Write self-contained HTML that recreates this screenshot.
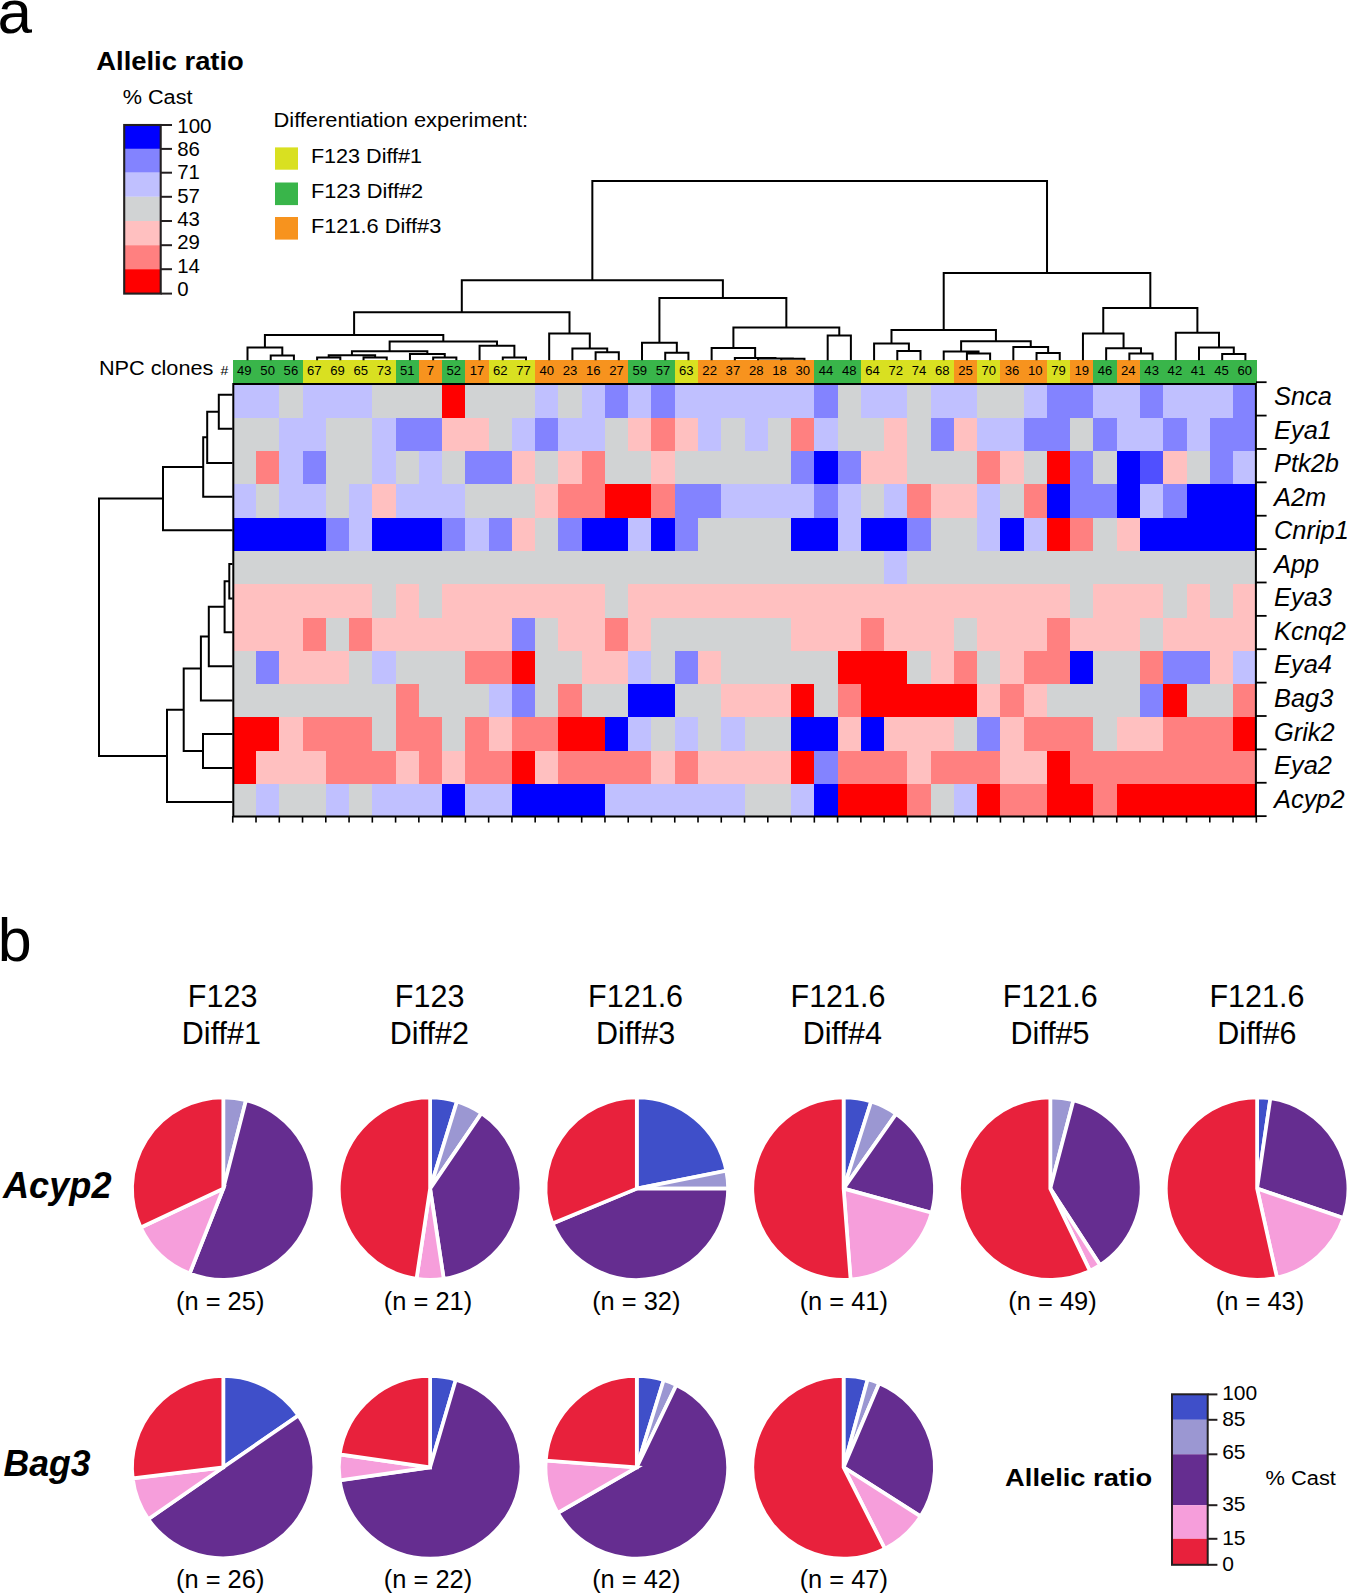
<!DOCTYPE html>
<html><head><meta charset="utf-8"><title>Figure</title>
<style>html,body{margin:0;padding:0;background:#fff;}body{width:1347px;height:1595px;position:relative;overflow:hidden;font-family:"Liberation Sans", sans-serif;}</style>
</head><body>
<svg width="1347" height="1595" viewBox="0 0 1347 1595" style="position:absolute;left:0;top:0" font-family='"Liberation Sans", sans-serif'>
<rect width="1347" height="1595" fill="#fff"/>
<g shape-rendering="crispEdges">
<rect x="232.75" y="383.70" width="46.53" height="34.56" fill="#C0C0FF"/>
<rect x="279.28" y="383.70" width="23.26" height="34.56" fill="#D1D3D4"/>
<rect x="302.54" y="383.70" width="69.79" height="34.56" fill="#C0C0FF"/>
<rect x="372.33" y="383.70" width="69.79" height="34.56" fill="#D1D3D4"/>
<rect x="442.12" y="383.70" width="23.26" height="34.56" fill="#FF0000"/>
<rect x="465.38" y="383.70" width="69.79" height="34.56" fill="#D1D3D4"/>
<rect x="535.17" y="383.70" width="23.26" height="34.56" fill="#C0C0FF"/>
<rect x="558.43" y="383.70" width="23.26" height="34.56" fill="#D1D3D4"/>
<rect x="581.70" y="383.70" width="23.26" height="34.56" fill="#C0C0FF"/>
<rect x="604.96" y="383.70" width="23.26" height="34.56" fill="#8383FF"/>
<rect x="628.22" y="383.70" width="23.26" height="34.56" fill="#C0C0FF"/>
<rect x="651.48" y="383.70" width="23.26" height="34.56" fill="#8383FF"/>
<rect x="674.75" y="383.70" width="139.58" height="34.56" fill="#C0C0FF"/>
<rect x="814.33" y="383.70" width="23.26" height="34.56" fill="#8383FF"/>
<rect x="837.59" y="383.70" width="23.26" height="34.56" fill="#D1D3D4"/>
<rect x="860.85" y="383.70" width="46.53" height="34.56" fill="#C0C0FF"/>
<rect x="907.38" y="383.70" width="23.26" height="34.56" fill="#D1D3D4"/>
<rect x="930.64" y="383.70" width="46.53" height="34.56" fill="#C0C0FF"/>
<rect x="977.17" y="383.70" width="46.53" height="34.56" fill="#D1D3D4"/>
<rect x="1023.69" y="383.70" width="23.26" height="34.56" fill="#C0C0FF"/>
<rect x="1046.95" y="383.70" width="46.53" height="34.56" fill="#8383FF"/>
<rect x="1093.48" y="383.70" width="46.53" height="34.56" fill="#C0C0FF"/>
<rect x="1140.01" y="383.70" width="23.26" height="34.56" fill="#8383FF"/>
<rect x="1163.27" y="383.70" width="69.79" height="34.56" fill="#C0C0FF"/>
<rect x="1233.06" y="383.70" width="23.26" height="34.56" fill="#8383FF"/>
<rect x="232.75" y="417.96" width="46.53" height="33.56" fill="#D1D3D4"/>
<rect x="279.28" y="417.96" width="46.53" height="33.56" fill="#C0C0FF"/>
<rect x="325.80" y="417.96" width="46.53" height="33.56" fill="#D1D3D4"/>
<rect x="372.33" y="417.96" width="23.26" height="33.56" fill="#C0C0FF"/>
<rect x="395.59" y="417.96" width="46.53" height="33.56" fill="#8383FF"/>
<rect x="442.12" y="417.96" width="46.53" height="33.56" fill="#FFC0C0"/>
<rect x="488.64" y="417.96" width="23.26" height="33.56" fill="#D1D3D4"/>
<rect x="511.91" y="417.96" width="23.26" height="33.56" fill="#C0C0FF"/>
<rect x="535.17" y="417.96" width="23.26" height="33.56" fill="#8383FF"/>
<rect x="558.43" y="417.96" width="46.53" height="33.56" fill="#C0C0FF"/>
<rect x="604.96" y="417.96" width="23.26" height="33.56" fill="#D1D3D4"/>
<rect x="628.22" y="417.96" width="23.26" height="33.56" fill="#FFC0C0"/>
<rect x="651.48" y="417.96" width="23.26" height="33.56" fill="#FF8080"/>
<rect x="674.75" y="417.96" width="23.26" height="33.56" fill="#FFC0C0"/>
<rect x="698.01" y="417.96" width="23.26" height="33.56" fill="#C0C0FF"/>
<rect x="721.27" y="417.96" width="23.26" height="33.56" fill="#D1D3D4"/>
<rect x="744.54" y="417.96" width="23.26" height="33.56" fill="#C0C0FF"/>
<rect x="767.80" y="417.96" width="23.26" height="33.56" fill="#D1D3D4"/>
<rect x="791.06" y="417.96" width="23.26" height="33.56" fill="#FF8080"/>
<rect x="814.33" y="417.96" width="23.26" height="33.56" fill="#C0C0FF"/>
<rect x="837.59" y="417.96" width="46.53" height="33.56" fill="#D1D3D4"/>
<rect x="884.11" y="417.96" width="23.26" height="33.56" fill="#FFC0C0"/>
<rect x="907.38" y="417.96" width="23.26" height="33.56" fill="#D1D3D4"/>
<rect x="930.64" y="417.96" width="23.26" height="33.56" fill="#8383FF"/>
<rect x="953.90" y="417.96" width="23.26" height="33.56" fill="#FFC0C0"/>
<rect x="977.17" y="417.96" width="46.53" height="33.56" fill="#C0C0FF"/>
<rect x="1023.69" y="417.96" width="46.53" height="33.56" fill="#8383FF"/>
<rect x="1070.22" y="417.96" width="23.26" height="33.56" fill="#D1D3D4"/>
<rect x="1093.48" y="417.96" width="23.26" height="33.56" fill="#8383FF"/>
<rect x="1116.74" y="417.96" width="46.53" height="33.56" fill="#C0C0FF"/>
<rect x="1163.27" y="417.96" width="23.26" height="33.56" fill="#8383FF"/>
<rect x="1186.53" y="417.96" width="23.26" height="33.56" fill="#C0C0FF"/>
<rect x="1209.80" y="417.96" width="46.53" height="33.56" fill="#8383FF"/>
<rect x="232.75" y="451.22" width="23.26" height="33.56" fill="#D1D3D4"/>
<rect x="256.01" y="451.22" width="23.26" height="33.56" fill="#FF8080"/>
<rect x="279.28" y="451.22" width="23.26" height="33.56" fill="#C0C0FF"/>
<rect x="302.54" y="451.22" width="23.26" height="33.56" fill="#8383FF"/>
<rect x="325.80" y="451.22" width="46.53" height="33.56" fill="#D1D3D4"/>
<rect x="372.33" y="451.22" width="23.26" height="33.56" fill="#C0C0FF"/>
<rect x="395.59" y="451.22" width="23.26" height="33.56" fill="#D1D3D4"/>
<rect x="418.85" y="451.22" width="23.26" height="33.56" fill="#C0C0FF"/>
<rect x="442.12" y="451.22" width="23.26" height="33.56" fill="#D1D3D4"/>
<rect x="465.38" y="451.22" width="46.53" height="33.56" fill="#8383FF"/>
<rect x="511.91" y="451.22" width="23.26" height="33.56" fill="#FFC0C0"/>
<rect x="535.17" y="451.22" width="23.26" height="33.56" fill="#D1D3D4"/>
<rect x="558.43" y="451.22" width="23.26" height="33.56" fill="#FFC0C0"/>
<rect x="581.70" y="451.22" width="23.26" height="33.56" fill="#FF8080"/>
<rect x="604.96" y="451.22" width="46.53" height="33.56" fill="#D1D3D4"/>
<rect x="651.48" y="451.22" width="23.26" height="33.56" fill="#FFC0C0"/>
<rect x="674.75" y="451.22" width="116.31" height="33.56" fill="#D1D3D4"/>
<rect x="791.06" y="451.22" width="23.26" height="33.56" fill="#8383FF"/>
<rect x="814.33" y="451.22" width="23.26" height="33.56" fill="#0000FF"/>
<rect x="837.59" y="451.22" width="23.26" height="33.56" fill="#8383FF"/>
<rect x="860.85" y="451.22" width="46.53" height="33.56" fill="#FFC0C0"/>
<rect x="907.38" y="451.22" width="69.79" height="33.56" fill="#D1D3D4"/>
<rect x="977.17" y="451.22" width="23.26" height="33.56" fill="#FF8080"/>
<rect x="1000.43" y="451.22" width="23.26" height="33.56" fill="#FFC0C0"/>
<rect x="1023.69" y="451.22" width="23.26" height="33.56" fill="#D1D3D4"/>
<rect x="1046.95" y="451.22" width="23.26" height="33.56" fill="#FF0000"/>
<rect x="1070.22" y="451.22" width="23.26" height="33.56" fill="#8383FF"/>
<rect x="1093.48" y="451.22" width="23.26" height="33.56" fill="#D1D3D4"/>
<rect x="1116.74" y="451.22" width="23.26" height="33.56" fill="#0000FF"/>
<rect x="1140.01" y="451.22" width="23.26" height="33.56" fill="#5050FF"/>
<rect x="1163.27" y="451.22" width="23.26" height="33.56" fill="#FFC0C0"/>
<rect x="1186.53" y="451.22" width="23.26" height="33.56" fill="#D1D3D4"/>
<rect x="1209.80" y="451.22" width="23.26" height="33.56" fill="#8383FF"/>
<rect x="1233.06" y="451.22" width="23.26" height="33.56" fill="#C0C0FF"/>
<rect x="232.75" y="484.48" width="23.26" height="33.56" fill="#C0C0FF"/>
<rect x="256.01" y="484.48" width="23.26" height="33.56" fill="#D1D3D4"/>
<rect x="279.28" y="484.48" width="46.53" height="33.56" fill="#C0C0FF"/>
<rect x="325.80" y="484.48" width="23.26" height="33.56" fill="#D1D3D4"/>
<rect x="349.06" y="484.48" width="23.26" height="33.56" fill="#C0C0FF"/>
<rect x="372.33" y="484.48" width="23.26" height="33.56" fill="#FFC0C0"/>
<rect x="395.59" y="484.48" width="69.79" height="33.56" fill="#C0C0FF"/>
<rect x="465.38" y="484.48" width="69.79" height="33.56" fill="#D1D3D4"/>
<rect x="535.17" y="484.48" width="23.26" height="33.56" fill="#FFC0C0"/>
<rect x="558.43" y="484.48" width="46.53" height="33.56" fill="#FF8080"/>
<rect x="604.96" y="484.48" width="46.53" height="33.56" fill="#FF0000"/>
<rect x="651.48" y="484.48" width="23.26" height="33.56" fill="#FF8080"/>
<rect x="674.75" y="484.48" width="46.53" height="33.56" fill="#8383FF"/>
<rect x="721.27" y="484.48" width="93.05" height="33.56" fill="#C0C0FF"/>
<rect x="814.33" y="484.48" width="23.26" height="33.56" fill="#8383FF"/>
<rect x="837.59" y="484.48" width="23.26" height="33.56" fill="#C0C0FF"/>
<rect x="860.85" y="484.48" width="23.26" height="33.56" fill="#D1D3D4"/>
<rect x="884.11" y="484.48" width="23.26" height="33.56" fill="#C0C0FF"/>
<rect x="907.38" y="484.48" width="23.26" height="33.56" fill="#FF8080"/>
<rect x="930.64" y="484.48" width="46.53" height="33.56" fill="#FFC0C0"/>
<rect x="977.17" y="484.48" width="23.26" height="33.56" fill="#C0C0FF"/>
<rect x="1000.43" y="484.48" width="23.26" height="33.56" fill="#D1D3D4"/>
<rect x="1023.69" y="484.48" width="23.26" height="33.56" fill="#FF8080"/>
<rect x="1046.95" y="484.48" width="23.26" height="33.56" fill="#0000FF"/>
<rect x="1070.22" y="484.48" width="46.53" height="33.56" fill="#8383FF"/>
<rect x="1116.74" y="484.48" width="23.26" height="33.56" fill="#0000FF"/>
<rect x="1140.01" y="484.48" width="23.26" height="33.56" fill="#C0C0FF"/>
<rect x="1163.27" y="484.48" width="23.26" height="33.56" fill="#8383FF"/>
<rect x="1186.53" y="484.48" width="69.79" height="33.56" fill="#0000FF"/>
<rect x="232.75" y="517.74" width="93.05" height="33.56" fill="#0000FF"/>
<rect x="325.80" y="517.74" width="23.26" height="33.56" fill="#8383FF"/>
<rect x="349.06" y="517.74" width="23.26" height="33.56" fill="#C0C0FF"/>
<rect x="372.33" y="517.74" width="69.79" height="33.56" fill="#0000FF"/>
<rect x="442.12" y="517.74" width="23.26" height="33.56" fill="#8383FF"/>
<rect x="465.38" y="517.74" width="23.26" height="33.56" fill="#C0C0FF"/>
<rect x="488.64" y="517.74" width="23.26" height="33.56" fill="#8383FF"/>
<rect x="511.91" y="517.74" width="23.26" height="33.56" fill="#FFC0C0"/>
<rect x="535.17" y="517.74" width="23.26" height="33.56" fill="#D1D3D4"/>
<rect x="558.43" y="517.74" width="23.26" height="33.56" fill="#8383FF"/>
<rect x="581.70" y="517.74" width="46.53" height="33.56" fill="#0000FF"/>
<rect x="628.22" y="517.74" width="23.26" height="33.56" fill="#C0C0FF"/>
<rect x="651.48" y="517.74" width="23.26" height="33.56" fill="#0000FF"/>
<rect x="674.75" y="517.74" width="23.26" height="33.56" fill="#8383FF"/>
<rect x="698.01" y="517.74" width="93.05" height="33.56" fill="#D1D3D4"/>
<rect x="791.06" y="517.74" width="46.53" height="33.56" fill="#0000FF"/>
<rect x="837.59" y="517.74" width="23.26" height="33.56" fill="#C0C0FF"/>
<rect x="860.85" y="517.74" width="46.53" height="33.56" fill="#0000FF"/>
<rect x="907.38" y="517.74" width="23.26" height="33.56" fill="#8383FF"/>
<rect x="930.64" y="517.74" width="46.53" height="33.56" fill="#D1D3D4"/>
<rect x="977.17" y="517.74" width="23.26" height="33.56" fill="#C0C0FF"/>
<rect x="1000.43" y="517.74" width="23.26" height="33.56" fill="#0000FF"/>
<rect x="1023.69" y="517.74" width="23.26" height="33.56" fill="#C0C0FF"/>
<rect x="1046.95" y="517.74" width="23.26" height="33.56" fill="#FF0000"/>
<rect x="1070.22" y="517.74" width="23.26" height="33.56" fill="#FF8080"/>
<rect x="1093.48" y="517.74" width="23.26" height="33.56" fill="#D1D3D4"/>
<rect x="1116.74" y="517.74" width="23.26" height="33.56" fill="#FFC0C0"/>
<rect x="1140.01" y="517.74" width="116.32" height="33.56" fill="#0000FF"/>
<rect x="232.75" y="551.00" width="651.36" height="33.56" fill="#D1D3D4"/>
<rect x="884.11" y="551.00" width="23.26" height="33.56" fill="#C0C0FF"/>
<rect x="907.38" y="551.00" width="348.95" height="33.56" fill="#D1D3D4"/>
<rect x="232.75" y="584.26" width="139.58" height="33.56" fill="#FFC0C0"/>
<rect x="372.33" y="584.26" width="23.26" height="33.56" fill="#D1D3D4"/>
<rect x="395.59" y="584.26" width="23.26" height="33.56" fill="#FFC0C0"/>
<rect x="418.85" y="584.26" width="23.26" height="33.56" fill="#D1D3D4"/>
<rect x="442.12" y="584.26" width="162.84" height="33.56" fill="#FFC0C0"/>
<rect x="604.96" y="584.26" width="23.26" height="33.56" fill="#D1D3D4"/>
<rect x="628.22" y="584.26" width="442.00" height="33.56" fill="#FFC0C0"/>
<rect x="1070.22" y="584.26" width="23.26" height="33.56" fill="#D1D3D4"/>
<rect x="1093.48" y="584.26" width="69.79" height="33.56" fill="#FFC0C0"/>
<rect x="1163.27" y="584.26" width="23.26" height="33.56" fill="#D1D3D4"/>
<rect x="1186.53" y="584.26" width="23.26" height="33.56" fill="#FFC0C0"/>
<rect x="1209.80" y="584.26" width="23.26" height="33.56" fill="#D1D3D4"/>
<rect x="1233.06" y="584.26" width="23.26" height="33.56" fill="#FFC0C0"/>
<rect x="232.75" y="617.52" width="69.79" height="33.56" fill="#FFC0C0"/>
<rect x="302.54" y="617.52" width="23.26" height="33.56" fill="#FF8080"/>
<rect x="325.80" y="617.52" width="23.26" height="33.56" fill="#D1D3D4"/>
<rect x="349.06" y="617.52" width="23.26" height="33.56" fill="#FF8080"/>
<rect x="372.33" y="617.52" width="139.58" height="33.56" fill="#FFC0C0"/>
<rect x="511.91" y="617.52" width="23.26" height="33.56" fill="#8383FF"/>
<rect x="535.17" y="617.52" width="23.26" height="33.56" fill="#D1D3D4"/>
<rect x="558.43" y="617.52" width="46.53" height="33.56" fill="#FFC0C0"/>
<rect x="604.96" y="617.52" width="23.26" height="33.56" fill="#FF8080"/>
<rect x="628.22" y="617.52" width="23.26" height="33.56" fill="#FFC0C0"/>
<rect x="651.48" y="617.52" width="139.58" height="33.56" fill="#D1D3D4"/>
<rect x="791.06" y="617.52" width="69.79" height="33.56" fill="#FFC0C0"/>
<rect x="860.85" y="617.52" width="23.26" height="33.56" fill="#FF8080"/>
<rect x="884.11" y="617.52" width="69.79" height="33.56" fill="#FFC0C0"/>
<rect x="953.90" y="617.52" width="23.26" height="33.56" fill="#D1D3D4"/>
<rect x="977.17" y="617.52" width="69.79" height="33.56" fill="#FFC0C0"/>
<rect x="1046.95" y="617.52" width="23.26" height="33.56" fill="#FF8080"/>
<rect x="1070.22" y="617.52" width="69.79" height="33.56" fill="#FFC0C0"/>
<rect x="1140.01" y="617.52" width="23.26" height="33.56" fill="#D1D3D4"/>
<rect x="1163.27" y="617.52" width="93.05" height="33.56" fill="#FFC0C0"/>
<rect x="232.75" y="650.78" width="23.26" height="33.56" fill="#D1D3D4"/>
<rect x="256.01" y="650.78" width="23.26" height="33.56" fill="#8383FF"/>
<rect x="279.28" y="650.78" width="69.79" height="33.56" fill="#FFC0C0"/>
<rect x="349.06" y="650.78" width="23.26" height="33.56" fill="#D1D3D4"/>
<rect x="372.33" y="650.78" width="23.26" height="33.56" fill="#C0C0FF"/>
<rect x="395.59" y="650.78" width="69.79" height="33.56" fill="#D1D3D4"/>
<rect x="465.38" y="650.78" width="46.53" height="33.56" fill="#FF8080"/>
<rect x="511.91" y="650.78" width="23.26" height="33.56" fill="#FF0000"/>
<rect x="535.17" y="650.78" width="46.53" height="33.56" fill="#D1D3D4"/>
<rect x="581.70" y="650.78" width="46.53" height="33.56" fill="#FFC0C0"/>
<rect x="628.22" y="650.78" width="23.26" height="33.56" fill="#C0C0FF"/>
<rect x="651.48" y="650.78" width="23.26" height="33.56" fill="#D1D3D4"/>
<rect x="674.75" y="650.78" width="23.26" height="33.56" fill="#8383FF"/>
<rect x="698.01" y="650.78" width="23.26" height="33.56" fill="#FFC0C0"/>
<rect x="721.27" y="650.78" width="116.32" height="33.56" fill="#D1D3D4"/>
<rect x="837.59" y="650.78" width="69.79" height="33.56" fill="#FF0000"/>
<rect x="907.38" y="650.78" width="23.26" height="33.56" fill="#D1D3D4"/>
<rect x="930.64" y="650.78" width="23.26" height="33.56" fill="#FFC0C0"/>
<rect x="953.90" y="650.78" width="23.26" height="33.56" fill="#FF8080"/>
<rect x="977.17" y="650.78" width="23.26" height="33.56" fill="#D1D3D4"/>
<rect x="1000.43" y="650.78" width="23.26" height="33.56" fill="#FFC0C0"/>
<rect x="1023.69" y="650.78" width="46.53" height="33.56" fill="#FF8080"/>
<rect x="1070.22" y="650.78" width="23.26" height="33.56" fill="#0000FF"/>
<rect x="1093.48" y="650.78" width="46.53" height="33.56" fill="#D1D3D4"/>
<rect x="1140.01" y="650.78" width="23.26" height="33.56" fill="#FF8080"/>
<rect x="1163.27" y="650.78" width="46.53" height="33.56" fill="#8383FF"/>
<rect x="1209.80" y="650.78" width="23.26" height="33.56" fill="#FFC0C0"/>
<rect x="1233.06" y="650.78" width="23.26" height="33.56" fill="#C0C0FF"/>
<rect x="232.75" y="684.04" width="162.84" height="33.56" fill="#D1D3D4"/>
<rect x="395.59" y="684.04" width="23.26" height="33.56" fill="#FF8080"/>
<rect x="418.85" y="684.04" width="69.79" height="33.56" fill="#D1D3D4"/>
<rect x="488.64" y="684.04" width="23.26" height="33.56" fill="#C0C0FF"/>
<rect x="511.91" y="684.04" width="23.26" height="33.56" fill="#8383FF"/>
<rect x="535.17" y="684.04" width="23.26" height="33.56" fill="#D1D3D4"/>
<rect x="558.43" y="684.04" width="23.26" height="33.56" fill="#FF8080"/>
<rect x="581.70" y="684.04" width="46.53" height="33.56" fill="#D1D3D4"/>
<rect x="628.22" y="684.04" width="46.53" height="33.56" fill="#0000FF"/>
<rect x="674.75" y="684.04" width="46.53" height="33.56" fill="#D1D3D4"/>
<rect x="721.27" y="684.04" width="69.79" height="33.56" fill="#FFC0C0"/>
<rect x="791.06" y="684.04" width="23.26" height="33.56" fill="#FF0000"/>
<rect x="814.33" y="684.04" width="23.26" height="33.56" fill="#D1D3D4"/>
<rect x="837.59" y="684.04" width="23.26" height="33.56" fill="#FF8080"/>
<rect x="860.85" y="684.04" width="116.32" height="33.56" fill="#FF0000"/>
<rect x="977.17" y="684.04" width="23.26" height="33.56" fill="#FFC0C0"/>
<rect x="1000.43" y="684.04" width="23.26" height="33.56" fill="#FF8080"/>
<rect x="1023.69" y="684.04" width="23.26" height="33.56" fill="#FFC0C0"/>
<rect x="1046.95" y="684.04" width="93.05" height="33.56" fill="#D1D3D4"/>
<rect x="1140.01" y="684.04" width="23.26" height="33.56" fill="#8383FF"/>
<rect x="1163.27" y="684.04" width="23.26" height="33.56" fill="#FF0000"/>
<rect x="1186.53" y="684.04" width="46.53" height="33.56" fill="#D1D3D4"/>
<rect x="1233.06" y="684.04" width="23.26" height="33.56" fill="#FF8080"/>
<rect x="232.75" y="717.30" width="46.53" height="33.56" fill="#FF0000"/>
<rect x="279.28" y="717.30" width="23.26" height="33.56" fill="#FFC0C0"/>
<rect x="302.54" y="717.30" width="69.79" height="33.56" fill="#FF8080"/>
<rect x="372.33" y="717.30" width="23.26" height="33.56" fill="#D1D3D4"/>
<rect x="395.59" y="717.30" width="46.53" height="33.56" fill="#FF8080"/>
<rect x="442.12" y="717.30" width="23.26" height="33.56" fill="#D1D3D4"/>
<rect x="465.38" y="717.30" width="23.26" height="33.56" fill="#FF8080"/>
<rect x="488.64" y="717.30" width="23.26" height="33.56" fill="#FFC0C0"/>
<rect x="511.91" y="717.30" width="46.53" height="33.56" fill="#FF8080"/>
<rect x="558.43" y="717.30" width="46.53" height="33.56" fill="#FF0000"/>
<rect x="604.96" y="717.30" width="23.26" height="33.56" fill="#0000FF"/>
<rect x="628.22" y="717.30" width="23.26" height="33.56" fill="#C0C0FF"/>
<rect x="651.48" y="717.30" width="23.26" height="33.56" fill="#D1D3D4"/>
<rect x="674.75" y="717.30" width="23.26" height="33.56" fill="#C0C0FF"/>
<rect x="698.01" y="717.30" width="23.26" height="33.56" fill="#D1D3D4"/>
<rect x="721.27" y="717.30" width="23.26" height="33.56" fill="#C0C0FF"/>
<rect x="744.54" y="717.30" width="46.53" height="33.56" fill="#D1D3D4"/>
<rect x="791.06" y="717.30" width="46.53" height="33.56" fill="#0000FF"/>
<rect x="837.59" y="717.30" width="23.26" height="33.56" fill="#FFC0C0"/>
<rect x="860.85" y="717.30" width="23.26" height="33.56" fill="#0000FF"/>
<rect x="884.11" y="717.30" width="69.79" height="33.56" fill="#FFC0C0"/>
<rect x="953.90" y="717.30" width="23.26" height="33.56" fill="#D1D3D4"/>
<rect x="977.17" y="717.30" width="23.26" height="33.56" fill="#8383FF"/>
<rect x="1000.43" y="717.30" width="23.26" height="33.56" fill="#FFC0C0"/>
<rect x="1023.69" y="717.30" width="69.79" height="33.56" fill="#FF8080"/>
<rect x="1093.48" y="717.30" width="23.26" height="33.56" fill="#D1D3D4"/>
<rect x="1116.74" y="717.30" width="46.53" height="33.56" fill="#FFC0C0"/>
<rect x="1163.27" y="717.30" width="69.79" height="33.56" fill="#FF8080"/>
<rect x="1233.06" y="717.30" width="23.26" height="33.56" fill="#FF0000"/>
<rect x="232.75" y="750.56" width="23.26" height="33.56" fill="#FF0000"/>
<rect x="256.01" y="750.56" width="69.79" height="33.56" fill="#FFC0C0"/>
<rect x="325.80" y="750.56" width="69.79" height="33.56" fill="#FF8080"/>
<rect x="395.59" y="750.56" width="23.26" height="33.56" fill="#FFC0C0"/>
<rect x="418.85" y="750.56" width="23.26" height="33.56" fill="#FF8080"/>
<rect x="442.12" y="750.56" width="23.26" height="33.56" fill="#FFC0C0"/>
<rect x="465.38" y="750.56" width="46.53" height="33.56" fill="#FF8080"/>
<rect x="511.91" y="750.56" width="23.26" height="33.56" fill="#FF0000"/>
<rect x="535.17" y="750.56" width="23.26" height="33.56" fill="#FFC0C0"/>
<rect x="558.43" y="750.56" width="93.05" height="33.56" fill="#FF8080"/>
<rect x="651.48" y="750.56" width="23.26" height="33.56" fill="#FFC0C0"/>
<rect x="674.75" y="750.56" width="23.26" height="33.56" fill="#FF8080"/>
<rect x="698.01" y="750.56" width="93.05" height="33.56" fill="#FFC0C0"/>
<rect x="791.06" y="750.56" width="23.26" height="33.56" fill="#FF0000"/>
<rect x="814.33" y="750.56" width="23.26" height="33.56" fill="#8383FF"/>
<rect x="837.59" y="750.56" width="69.79" height="33.56" fill="#FF8080"/>
<rect x="907.38" y="750.56" width="23.26" height="33.56" fill="#FFC0C0"/>
<rect x="930.64" y="750.56" width="69.79" height="33.56" fill="#FF8080"/>
<rect x="1000.43" y="750.56" width="46.53" height="33.56" fill="#FFC0C0"/>
<rect x="1046.95" y="750.56" width="23.26" height="33.56" fill="#FF0000"/>
<rect x="1070.22" y="750.56" width="186.10" height="33.56" fill="#FF8080"/>
<rect x="232.75" y="783.82" width="23.26" height="33.56" fill="#D1D3D4"/>
<rect x="256.01" y="783.82" width="23.26" height="33.56" fill="#C0C0FF"/>
<rect x="279.28" y="783.82" width="46.53" height="33.56" fill="#D1D3D4"/>
<rect x="325.80" y="783.82" width="23.26" height="33.56" fill="#C0C0FF"/>
<rect x="349.06" y="783.82" width="23.26" height="33.56" fill="#D1D3D4"/>
<rect x="372.33" y="783.82" width="69.79" height="33.56" fill="#C0C0FF"/>
<rect x="442.12" y="783.82" width="23.26" height="33.56" fill="#0000FF"/>
<rect x="465.38" y="783.82" width="46.53" height="33.56" fill="#C0C0FF"/>
<rect x="511.91" y="783.82" width="93.05" height="33.56" fill="#0000FF"/>
<rect x="604.96" y="783.82" width="139.58" height="33.56" fill="#C0C0FF"/>
<rect x="744.54" y="783.82" width="46.53" height="33.56" fill="#D1D3D4"/>
<rect x="791.06" y="783.82" width="23.26" height="33.56" fill="#C0C0FF"/>
<rect x="814.33" y="783.82" width="23.26" height="33.56" fill="#0000FF"/>
<rect x="837.59" y="783.82" width="69.79" height="33.56" fill="#FF0000"/>
<rect x="907.38" y="783.82" width="23.26" height="33.56" fill="#FF8080"/>
<rect x="930.64" y="783.82" width="23.26" height="33.56" fill="#D1D3D4"/>
<rect x="953.90" y="783.82" width="23.26" height="33.56" fill="#C0C0FF"/>
<rect x="977.17" y="783.82" width="23.26" height="33.56" fill="#FF0000"/>
<rect x="1000.43" y="783.82" width="46.53" height="33.56" fill="#FF8080"/>
<rect x="1046.95" y="783.82" width="46.53" height="33.56" fill="#FF0000"/>
<rect x="1093.48" y="783.82" width="23.26" height="33.56" fill="#FF8080"/>
<rect x="1116.74" y="783.82" width="139.58" height="33.56" fill="#FF0000"/>
</g>
<rect x="232.75" y="360.2" width="23.56" height="23.00" fill="#39B54A" shape-rendering="crispEdges"/>
<rect x="256.01" y="360.2" width="23.56" height="23.00" fill="#39B54A" shape-rendering="crispEdges"/>
<rect x="279.28" y="360.2" width="23.56" height="23.00" fill="#39B54A" shape-rendering="crispEdges"/>
<rect x="302.54" y="360.2" width="23.56" height="23.00" fill="#D9E021" shape-rendering="crispEdges"/>
<rect x="325.80" y="360.2" width="23.56" height="23.00" fill="#D9E021" shape-rendering="crispEdges"/>
<rect x="349.06" y="360.2" width="23.56" height="23.00" fill="#D9E021" shape-rendering="crispEdges"/>
<rect x="372.33" y="360.2" width="23.56" height="23.00" fill="#D9E021" shape-rendering="crispEdges"/>
<rect x="395.59" y="360.2" width="23.56" height="23.00" fill="#39B54A" shape-rendering="crispEdges"/>
<rect x="418.85" y="360.2" width="23.56" height="23.00" fill="#F7931E" shape-rendering="crispEdges"/>
<rect x="442.12" y="360.2" width="23.56" height="23.00" fill="#39B54A" shape-rendering="crispEdges"/>
<rect x="465.38" y="360.2" width="23.56" height="23.00" fill="#F7931E" shape-rendering="crispEdges"/>
<rect x="488.64" y="360.2" width="23.56" height="23.00" fill="#D9E021" shape-rendering="crispEdges"/>
<rect x="511.91" y="360.2" width="23.56" height="23.00" fill="#D9E021" shape-rendering="crispEdges"/>
<rect x="535.17" y="360.2" width="23.56" height="23.00" fill="#F7931E" shape-rendering="crispEdges"/>
<rect x="558.43" y="360.2" width="23.56" height="23.00" fill="#F7931E" shape-rendering="crispEdges"/>
<rect x="581.70" y="360.2" width="23.56" height="23.00" fill="#F7931E" shape-rendering="crispEdges"/>
<rect x="604.96" y="360.2" width="23.56" height="23.00" fill="#F7931E" shape-rendering="crispEdges"/>
<rect x="628.22" y="360.2" width="23.56" height="23.00" fill="#39B54A" shape-rendering="crispEdges"/>
<rect x="651.48" y="360.2" width="23.56" height="23.00" fill="#39B54A" shape-rendering="crispEdges"/>
<rect x="674.75" y="360.2" width="23.56" height="23.00" fill="#D9E021" shape-rendering="crispEdges"/>
<rect x="698.01" y="360.2" width="23.56" height="23.00" fill="#F7931E" shape-rendering="crispEdges"/>
<rect x="721.27" y="360.2" width="23.56" height="23.00" fill="#F7931E" shape-rendering="crispEdges"/>
<rect x="744.54" y="360.2" width="23.56" height="23.00" fill="#F7931E" shape-rendering="crispEdges"/>
<rect x="767.80" y="360.2" width="23.56" height="23.00" fill="#F7931E" shape-rendering="crispEdges"/>
<rect x="791.06" y="360.2" width="23.56" height="23.00" fill="#F7931E" shape-rendering="crispEdges"/>
<rect x="814.33" y="360.2" width="23.56" height="23.00" fill="#39B54A" shape-rendering="crispEdges"/>
<rect x="837.59" y="360.2" width="23.56" height="23.00" fill="#39B54A" shape-rendering="crispEdges"/>
<rect x="860.85" y="360.2" width="23.56" height="23.00" fill="#D9E021" shape-rendering="crispEdges"/>
<rect x="884.11" y="360.2" width="23.56" height="23.00" fill="#D9E021" shape-rendering="crispEdges"/>
<rect x="907.38" y="360.2" width="23.56" height="23.00" fill="#D9E021" shape-rendering="crispEdges"/>
<rect x="930.64" y="360.2" width="23.56" height="23.00" fill="#D9E021" shape-rendering="crispEdges"/>
<rect x="953.90" y="360.2" width="23.56" height="23.00" fill="#F7931E" shape-rendering="crispEdges"/>
<rect x="977.17" y="360.2" width="23.56" height="23.00" fill="#D9E021" shape-rendering="crispEdges"/>
<rect x="1000.43" y="360.2" width="23.56" height="23.00" fill="#F7931E" shape-rendering="crispEdges"/>
<rect x="1023.69" y="360.2" width="23.56" height="23.00" fill="#F7931E" shape-rendering="crispEdges"/>
<rect x="1046.95" y="360.2" width="23.56" height="23.00" fill="#D9E021" shape-rendering="crispEdges"/>
<rect x="1070.22" y="360.2" width="23.56" height="23.00" fill="#F7931E" shape-rendering="crispEdges"/>
<rect x="1093.48" y="360.2" width="23.56" height="23.00" fill="#39B54A" shape-rendering="crispEdges"/>
<rect x="1116.74" y="360.2" width="23.56" height="23.00" fill="#F7931E" shape-rendering="crispEdges"/>
<rect x="1140.01" y="360.2" width="23.56" height="23.00" fill="#39B54A" shape-rendering="crispEdges"/>
<rect x="1163.27" y="360.2" width="23.56" height="23.00" fill="#39B54A" shape-rendering="crispEdges"/>
<rect x="1186.53" y="360.2" width="23.56" height="23.00" fill="#39B54A" shape-rendering="crispEdges"/>
<rect x="1209.80" y="360.2" width="23.56" height="23.00" fill="#39B54A" shape-rendering="crispEdges"/>
<rect x="1233.06" y="360.2" width="23.56" height="23.00" fill="#39B54A" shape-rendering="crispEdges"/>
<text x="244.38" y="374.9" font-size="13.1" text-anchor="middle" fill="#000">49</text>
<text x="267.64" y="374.9" font-size="13.1" text-anchor="middle" fill="#000">50</text>
<text x="290.91" y="374.9" font-size="13.1" text-anchor="middle" fill="#000">56</text>
<text x="314.17" y="374.9" font-size="13.1" text-anchor="middle" fill="#000">67</text>
<text x="337.43" y="374.9" font-size="13.1" text-anchor="middle" fill="#000">69</text>
<text x="360.70" y="374.9" font-size="13.1" text-anchor="middle" fill="#000">65</text>
<text x="383.96" y="374.9" font-size="13.1" text-anchor="middle" fill="#000">73</text>
<text x="407.22" y="374.9" font-size="13.1" text-anchor="middle" fill="#000">51</text>
<text x="430.49" y="374.9" font-size="13.1" text-anchor="middle" fill="#000">7</text>
<text x="453.75" y="374.9" font-size="13.1" text-anchor="middle" fill="#000">52</text>
<text x="477.01" y="374.9" font-size="13.1" text-anchor="middle" fill="#000">17</text>
<text x="500.27" y="374.9" font-size="13.1" text-anchor="middle" fill="#000">62</text>
<text x="523.54" y="374.9" font-size="13.1" text-anchor="middle" fill="#000">77</text>
<text x="546.80" y="374.9" font-size="13.1" text-anchor="middle" fill="#000">40</text>
<text x="570.06" y="374.9" font-size="13.1" text-anchor="middle" fill="#000">23</text>
<text x="593.33" y="374.9" font-size="13.1" text-anchor="middle" fill="#000">16</text>
<text x="616.59" y="374.9" font-size="13.1" text-anchor="middle" fill="#000">27</text>
<text x="639.85" y="374.9" font-size="13.1" text-anchor="middle" fill="#000">59</text>
<text x="663.12" y="374.9" font-size="13.1" text-anchor="middle" fill="#000">57</text>
<text x="686.38" y="374.9" font-size="13.1" text-anchor="middle" fill="#000">63</text>
<text x="709.64" y="374.9" font-size="13.1" text-anchor="middle" fill="#000">22</text>
<text x="732.90" y="374.9" font-size="13.1" text-anchor="middle" fill="#000">37</text>
<text x="756.17" y="374.9" font-size="13.1" text-anchor="middle" fill="#000">28</text>
<text x="779.43" y="374.9" font-size="13.1" text-anchor="middle" fill="#000">18</text>
<text x="802.69" y="374.9" font-size="13.1" text-anchor="middle" fill="#000">30</text>
<text x="825.96" y="374.9" font-size="13.1" text-anchor="middle" fill="#000">44</text>
<text x="849.22" y="374.9" font-size="13.1" text-anchor="middle" fill="#000">48</text>
<text x="872.48" y="374.9" font-size="13.1" text-anchor="middle" fill="#000">64</text>
<text x="895.75" y="374.9" font-size="13.1" text-anchor="middle" fill="#000">72</text>
<text x="919.01" y="374.9" font-size="13.1" text-anchor="middle" fill="#000">74</text>
<text x="942.27" y="374.9" font-size="13.1" text-anchor="middle" fill="#000">68</text>
<text x="965.53" y="374.9" font-size="13.1" text-anchor="middle" fill="#000">25</text>
<text x="988.80" y="374.9" font-size="13.1" text-anchor="middle" fill="#000">70</text>
<text x="1012.06" y="374.9" font-size="13.1" text-anchor="middle" fill="#000">36</text>
<text x="1035.32" y="374.9" font-size="13.1" text-anchor="middle" fill="#000">10</text>
<text x="1058.59" y="374.9" font-size="13.1" text-anchor="middle" fill="#000">79</text>
<text x="1081.85" y="374.9" font-size="13.1" text-anchor="middle" fill="#000">19</text>
<text x="1105.11" y="374.9" font-size="13.1" text-anchor="middle" fill="#000">46</text>
<text x="1128.38" y="374.9" font-size="13.1" text-anchor="middle" fill="#000">24</text>
<text x="1151.64" y="374.9" font-size="13.1" text-anchor="middle" fill="#000">43</text>
<text x="1174.90" y="374.9" font-size="13.1" text-anchor="middle" fill="#000">42</text>
<text x="1198.16" y="374.9" font-size="13.1" text-anchor="middle" fill="#000">41</text>
<text x="1221.43" y="374.9" font-size="13.1" text-anchor="middle" fill="#000">45</text>
<text x="1244.69" y="374.9" font-size="13.1" text-anchor="middle" fill="#000">60</text>
<g stroke="#000" stroke-width="2" fill="none">
<path d="M233.3 384.0 H1256 M233.3 383.0 V817.5 M232.3 816.5 H1256.9 M1255.9 383.0 V817.5"/>
</g>
<g stroke="#000" stroke-width="1.6">
<line x1="232.75" y1="816" x2="232.75" y2="822.6"/>
<line x1="256.01" y1="816" x2="256.01" y2="822.6"/>
<line x1="279.28" y1="816" x2="279.28" y2="822.6"/>
<line x1="302.54" y1="816" x2="302.54" y2="822.6"/>
<line x1="325.80" y1="816" x2="325.80" y2="822.6"/>
<line x1="349.06" y1="816" x2="349.06" y2="822.6"/>
<line x1="372.33" y1="816" x2="372.33" y2="822.6"/>
<line x1="395.59" y1="816" x2="395.59" y2="822.6"/>
<line x1="418.85" y1="816" x2="418.85" y2="822.6"/>
<line x1="442.12" y1="816" x2="442.12" y2="822.6"/>
<line x1="465.38" y1="816" x2="465.38" y2="822.6"/>
<line x1="488.64" y1="816" x2="488.64" y2="822.6"/>
<line x1="511.91" y1="816" x2="511.91" y2="822.6"/>
<line x1="535.17" y1="816" x2="535.17" y2="822.6"/>
<line x1="558.43" y1="816" x2="558.43" y2="822.6"/>
<line x1="581.70" y1="816" x2="581.70" y2="822.6"/>
<line x1="604.96" y1="816" x2="604.96" y2="822.6"/>
<line x1="628.22" y1="816" x2="628.22" y2="822.6"/>
<line x1="651.48" y1="816" x2="651.48" y2="822.6"/>
<line x1="674.75" y1="816" x2="674.75" y2="822.6"/>
<line x1="698.01" y1="816" x2="698.01" y2="822.6"/>
<line x1="721.27" y1="816" x2="721.27" y2="822.6"/>
<line x1="744.54" y1="816" x2="744.54" y2="822.6"/>
<line x1="767.80" y1="816" x2="767.80" y2="822.6"/>
<line x1="791.06" y1="816" x2="791.06" y2="822.6"/>
<line x1="814.33" y1="816" x2="814.33" y2="822.6"/>
<line x1="837.59" y1="816" x2="837.59" y2="822.6"/>
<line x1="860.85" y1="816" x2="860.85" y2="822.6"/>
<line x1="884.11" y1="816" x2="884.11" y2="822.6"/>
<line x1="907.38" y1="816" x2="907.38" y2="822.6"/>
<line x1="930.64" y1="816" x2="930.64" y2="822.6"/>
<line x1="953.90" y1="816" x2="953.90" y2="822.6"/>
<line x1="977.17" y1="816" x2="977.17" y2="822.6"/>
<line x1="1000.43" y1="816" x2="1000.43" y2="822.6"/>
<line x1="1023.69" y1="816" x2="1023.69" y2="822.6"/>
<line x1="1046.95" y1="816" x2="1046.95" y2="822.6"/>
<line x1="1070.22" y1="816" x2="1070.22" y2="822.6"/>
<line x1="1093.48" y1="816" x2="1093.48" y2="822.6"/>
<line x1="1116.74" y1="816" x2="1116.74" y2="822.6"/>
<line x1="1140.01" y1="816" x2="1140.01" y2="822.6"/>
<line x1="1163.27" y1="816" x2="1163.27" y2="822.6"/>
<line x1="1186.53" y1="816" x2="1186.53" y2="822.6"/>
<line x1="1209.80" y1="816" x2="1209.80" y2="822.6"/>
<line x1="1233.06" y1="816" x2="1233.06" y2="822.6"/>
<line x1="1256.32" y1="816" x2="1256.32" y2="822.6"/>
</g>
<g stroke="#000" stroke-width="1.8">
<line x1="1256" y1="382.20" x2="1266.6" y2="382.20"/>
<line x1="1256" y1="415.58" x2="1266.6" y2="415.58"/>
<line x1="1256" y1="448.96" x2="1266.6" y2="448.96"/>
<line x1="1256" y1="482.34" x2="1266.6" y2="482.34"/>
<line x1="1256" y1="515.72" x2="1266.6" y2="515.72"/>
<line x1="1256" y1="549.10" x2="1266.6" y2="549.10"/>
<line x1="1256" y1="582.48" x2="1266.6" y2="582.48"/>
<line x1="1256" y1="615.86" x2="1266.6" y2="615.86"/>
<line x1="1256" y1="649.24" x2="1266.6" y2="649.24"/>
<line x1="1256" y1="682.62" x2="1266.6" y2="682.62"/>
<line x1="1256" y1="716.00" x2="1266.6" y2="716.00"/>
<line x1="1256" y1="749.38" x2="1266.6" y2="749.38"/>
<line x1="1256" y1="782.76" x2="1266.6" y2="782.76"/>
<line x1="1256" y1="816.14" x2="1266.6" y2="816.14"/>
</g>
<text x="1274" y="405.30" font-size="25.4" font-style="italic" fill="#000">Snca</text>
<text x="1274" y="438.82" font-size="25.4" font-style="italic" fill="#000">Eya1</text>
<text x="1274" y="472.34" font-size="25.4" font-style="italic" fill="#000">Ptk2b</text>
<text x="1274" y="505.86" font-size="25.4" font-style="italic" fill="#000">A2m</text>
<text x="1274" y="539.38" font-size="25.4" font-style="italic" fill="#000">Cnrip1</text>
<text x="1274" y="572.90" font-size="25.4" font-style="italic" fill="#000">App</text>
<text x="1274" y="606.42" font-size="25.4" font-style="italic" fill="#000">Eya3</text>
<text x="1274" y="639.94" font-size="25.4" font-style="italic" fill="#000">Kcnq2</text>
<text x="1274" y="673.46" font-size="25.4" font-style="italic" fill="#000">Eya4</text>
<text x="1274" y="706.98" font-size="25.4" font-style="italic" fill="#000">Bag3</text>
<text x="1274" y="740.50" font-size="25.4" font-style="italic" fill="#000">Grik2</text>
<text x="1274" y="774.02" font-size="25.4" font-style="italic" fill="#000">Eya2</text>
<text x="1274" y="807.54" font-size="25.4" font-style="italic" fill="#000">Acyp2</text>
<path d="M270.71 360.20V355.40H293.91V360.20 M247.50 360.20V347.50H282.31V355.40 M317.12 360.20V357.60H340.33V360.20 M363.53 360.20V357.60H386.74V360.20 M328.72 357.60V355.30H375.14V357.60 M433.16 360.20V357.40H456.36V360.20 M409.95 360.20V353.90H444.76V357.40 M351.93 355.30V351.20H427.35V353.90 M502.78 360.20V357.40H525.98V360.20 M479.57 360.20V345.80H514.38V357.40 M389.64 351.20V341.40H496.98V345.80 M264.91 347.50V335.10H443.31V341.40 M595.61 360.20V352.30H618.81V360.20 M572.40 360.20V348.40H607.21V352.30 M549.19 360.20V333.60H589.80V348.40 M354.11 335.10V312.20H569.50V333.60 M665.23 360.20V352.80H688.43V360.20 M642.02 360.20V342.70H676.83V352.80 M781.26 360.20V358.80H804.47V360.20 M758.05 360.20V358.50H792.86V358.80 M734.85 360.20V358.10H775.46V358.50 M711.64 360.20V348.00H755.15V358.10 M827.68 360.20V335.60H850.88V360.20 M733.40 348.00V327.40H839.28V335.60 M659.42 342.70V298.00H786.34V327.40 M461.80 312.20V280.30H722.88V298.00 M897.30 360.20V351.10H920.50V360.20 M874.09 360.20V343.40H908.90V351.10 M966.92 360.20V353.40H990.12V360.20 M943.71 360.20V351.60H978.52V353.40 M1036.54 360.20V352.90H1059.74V360.20 M1013.33 360.20V347.00H1048.14V352.90 M961.12 351.60V341.30H1030.74V347.00 M891.49 343.40V330.00H995.93V341.30 M1129.37 360.20V353.50H1152.57V360.20 M1106.16 360.20V348.20H1140.97V353.50 M1082.95 360.20V333.60H1123.56V348.20 M1222.19 360.20V354.00H1245.40V360.20 M1198.99 360.20V347.60H1233.80V354.00 M1175.78 360.20V332.70H1219.00V347.60 M1103.26 333.60V308.10H1197.39V332.70 M943.71 330.00V273.00H1150.32V308.10 M592.34 280.30V181.00H1047.02V273.00" stroke="#000" stroke-width="2" fill="none" stroke-linejoin="miter" stroke-linecap="butt"/>
<path d="M232.50 394.70H218.80V428.70H232.50 M218.80 411.70H207.20V462.90H232.50 M207.20 437.30H203.20V496.80H232.50 M203.20 467.05H163.00V530.20H232.50 M232.50 564.00H229.30V598.40H232.50 M229.30 581.20H224.60V632.20H232.50 M224.60 606.70H208.80V666.30H232.50 M208.80 636.50H200.90V700.60H232.50 M232.50 734.00H203.00V768.00H232.50 M200.90 668.55H183.70V751.00H203.00 M183.70 709.77H167.00V802.10H232.50 M163.00 498.62H99.00V755.94H167.00" stroke="#000" stroke-width="2" fill="none"/>
<text x="98.9" y="374.7" font-size="19.8" textLength="114.5" lengthAdjust="spacingAndGlyphs">NPC clones</text>
<text x="220.6" y="374.7" font-size="13" textLength="7.8" lengthAdjust="spacingAndGlyphs">#</text>
<text x="-2.5" y="33.3" font-size="62">a</text>
<text x="96.3" y="69.8" font-size="25.6" font-weight="bold" textLength="147.5" lengthAdjust="spacingAndGlyphs">Allelic ratio</text>
<text x="122.7" y="103.6" font-size="19.5" textLength="69.8" lengthAdjust="spacingAndGlyphs">% Cast</text>
<rect x="124.2" y="126.0" width="36.5" height="22.90" fill="#0000FF"/>
<rect x="124.2" y="148.9" width="36.5" height="23.80" fill="#8383FF"/>
<rect x="124.2" y="172.7" width="36.5" height="24.10" fill="#C0C0FF"/>
<rect x="124.2" y="196.8" width="36.5" height="24.20" fill="#D1D3D4"/>
<rect x="124.2" y="221.0" width="36.5" height="24.20" fill="#FFC0C0"/>
<rect x="124.2" y="245.2" width="36.5" height="24.00" fill="#FF8080"/>
<rect x="124.2" y="269.2" width="36.5" height="23.80" fill="#FF0000"/>
<rect x="124.2" y="125.0" width="36.5" height="168.6" fill="none" stroke="#231F20" stroke-width="2.1"/>
<line x1="160.7" y1="125.0" x2="172.0" y2="125.0" stroke="#231F20" stroke-width="2"/>
<text x="177.2" y="132.9" font-size="20.4" textLength="34.4" lengthAdjust="spacingAndGlyphs">100</text>
<line x1="160.7" y1="148.9" x2="172.0" y2="148.9" stroke="#231F20" stroke-width="2"/>
<text x="177.2" y="155.8" font-size="20.4">86</text>
<line x1="160.7" y1="172.7" x2="172.0" y2="172.7" stroke="#231F20" stroke-width="2"/>
<text x="177.2" y="179.3" font-size="20.4">71</text>
<line x1="160.7" y1="196.8" x2="172.0" y2="196.8" stroke="#231F20" stroke-width="2"/>
<text x="177.2" y="202.8" font-size="20.4">57</text>
<line x1="160.7" y1="221.0" x2="172.0" y2="221.0" stroke="#231F20" stroke-width="2"/>
<text x="177.2" y="226.4" font-size="20.4">43</text>
<line x1="160.7" y1="245.2" x2="172.0" y2="245.2" stroke="#231F20" stroke-width="2"/>
<text x="177.2" y="249.4" font-size="20.4">29</text>
<line x1="160.7" y1="269.2" x2="172.0" y2="269.2" stroke="#231F20" stroke-width="2"/>
<text x="177.2" y="272.8" font-size="20.4">14</text>
<line x1="160.7" y1="293.6" x2="172.0" y2="293.6" stroke="#231F20" stroke-width="2"/>
<text x="177.2" y="295.6" font-size="20.4">0</text>
<text x="273.5" y="127.4" font-size="19.5" textLength="254.6" lengthAdjust="spacingAndGlyphs">Differentiation experiment:</text>
<rect x="275" y="147.4" width="23" height="22.3" fill="#D9E021"/>
<rect x="275" y="182.5" width="23" height="22.6" fill="#39B54A"/>
<rect x="275" y="217.0" width="23" height="22.6" fill="#F7931E"/>
<text x="310.9" y="163.4" font-size="19.5" textLength="111.2" lengthAdjust="spacingAndGlyphs">F123 Diff#1</text>
<text x="310.9" y="198.3" font-size="19.5" textLength="112.3" lengthAdjust="spacingAndGlyphs">F123 Diff#2</text>
<text x="310.9" y="233.0" font-size="19.5" textLength="130.4" lengthAdjust="spacingAndGlyphs">F121.6 Diff#3</text>
<text x="-2.2" y="961.2" font-size="61">b</text>
<text x="222.6" y="1007" font-size="30.5" text-anchor="middle">F123</text>
<text x="221.4" y="1043.7" font-size="30.5" text-anchor="middle">Diff#1</text>
<text x="429.6" y="1007" font-size="30.5" text-anchor="middle">F123</text>
<text x="429.4" y="1043.7" font-size="30.5" text-anchor="middle">Diff#2</text>
<text x="635.6" y="1007" font-size="30.5" text-anchor="middle">F121.6</text>
<text x="635.6" y="1043.7" font-size="30.5" text-anchor="middle">Diff#3</text>
<text x="838.0" y="1007" font-size="30.5" text-anchor="middle">F121.6</text>
<text x="842.3" y="1043.7" font-size="30.5" text-anchor="middle">Diff#4</text>
<text x="1050.3" y="1007" font-size="30.5" text-anchor="middle">F121.6</text>
<text x="1050.0" y="1043.7" font-size="30.5" text-anchor="middle">Diff#5</text>
<text x="1256.9" y="1007" font-size="30.5" text-anchor="middle">F121.6</text>
<text x="1256.9" y="1043.7" font-size="30.5" text-anchor="middle">Diff#6</text>
<text x="3" y="1197.6" font-size="36.5" font-weight="bold" font-style="italic" textLength="108.5" lengthAdjust="spacingAndGlyphs">Acyp2</text>
<text x="3.6" y="1475.8" font-size="36.5" font-weight="bold" font-style="italic" textLength="87" lengthAdjust="spacingAndGlyphs">Bag3</text>
<path d="M223.30 1188.60L223.30 1097.30A91.3 91.3 0 0 1 246.01 1100.17Z" fill="#9B97D2" stroke="#fff" stroke-width="3.7" stroke-linejoin="miter"/>
<path d="M223.30 1188.60L246.01 1100.17A91.3 91.3 0 1 1 189.69 1273.49Z" fill="#652D90" stroke="#fff" stroke-width="3.7" stroke-linejoin="miter"/>
<path d="M223.30 1188.60L189.69 1273.49A91.3 91.3 0 0 1 140.69 1227.47Z" fill="#F69EDB" stroke="#fff" stroke-width="3.7" stroke-linejoin="miter"/>
<path d="M223.30 1188.60L140.69 1227.47A91.3 91.3 0 0 1 223.30 1097.30Z" fill="#E8213C" stroke="#fff" stroke-width="3.7" stroke-linejoin="miter"/>
<text x="220.2" y="1310" font-size="25" text-anchor="middle" textLength="88.3" lengthAdjust="spacingAndGlyphs">(n = 25)</text>
<path d="M430.10 1188.60L430.10 1097.30A91.3 91.3 0 0 1 457.01 1101.36Z" fill="#3F4FC9" stroke="#fff" stroke-width="3.7" stroke-linejoin="miter"/>
<path d="M430.10 1188.60L457.01 1101.36A91.3 91.3 0 0 1 481.53 1113.16Z" fill="#9B97D2" stroke="#fff" stroke-width="3.7" stroke-linejoin="miter"/>
<path d="M430.10 1188.60L481.53 1113.16A91.3 91.3 0 0 1 443.71 1278.88Z" fill="#652D90" stroke="#fff" stroke-width="3.7" stroke-linejoin="miter"/>
<path d="M430.10 1188.60L443.71 1278.88A91.3 91.3 0 0 1 416.49 1278.88Z" fill="#F69EDB" stroke="#fff" stroke-width="3.7" stroke-linejoin="miter"/>
<path d="M430.10 1188.60L416.49 1278.88A91.3 91.3 0 0 1 430.10 1097.30Z" fill="#E8213C" stroke="#fff" stroke-width="3.7" stroke-linejoin="miter"/>
<text x="428.0" y="1310" font-size="25" text-anchor="middle" textLength="88.3" lengthAdjust="spacingAndGlyphs">(n = 21)</text>
<path d="M636.80 1188.60L636.80 1097.30A91.3 91.3 0 0 1 726.35 1170.79Z" fill="#3F4FC9" stroke="#fff" stroke-width="3.7" stroke-linejoin="miter"/>
<path d="M636.80 1188.60L726.35 1170.79A91.3 91.3 0 0 1 728.10 1188.60Z" fill="#9B97D2" stroke="#fff" stroke-width="3.7" stroke-linejoin="miter"/>
<path d="M636.80 1188.60L728.10 1188.60A91.3 91.3 0 0 1 552.45 1223.54Z" fill="#652D90" stroke="#fff" stroke-width="3.7" stroke-linejoin="miter"/>
<path d="M636.80 1188.60L552.45 1223.54A91.3 91.3 0 0 1 636.80 1097.30Z" fill="#E8213C" stroke="#fff" stroke-width="3.7" stroke-linejoin="miter"/>
<text x="636.3" y="1310" font-size="25" text-anchor="middle" textLength="88.3" lengthAdjust="spacingAndGlyphs">(n = 32)</text>
<path d="M843.60 1188.60L843.60 1097.30A91.3 91.3 0 0 1 871.15 1101.55Z" fill="#3F4FC9" stroke="#fff" stroke-width="3.7" stroke-linejoin="miter"/>
<path d="M843.60 1188.60L871.15 1101.55A91.3 91.3 0 0 1 896.13 1113.92Z" fill="#9B97D2" stroke="#fff" stroke-width="3.7" stroke-linejoin="miter"/>
<path d="M843.60 1188.60L896.13 1113.92A91.3 91.3 0 0 1 931.64 1212.79Z" fill="#652D90" stroke="#fff" stroke-width="3.7" stroke-linejoin="miter"/>
<path d="M843.60 1188.60L931.64 1212.79A91.3 91.3 0 0 1 850.59 1279.63Z" fill="#F69EDB" stroke="#fff" stroke-width="3.7" stroke-linejoin="miter"/>
<path d="M843.60 1188.60L850.59 1279.63A91.3 91.3 0 1 1 843.60 1097.30Z" fill="#E8213C" stroke="#fff" stroke-width="3.7" stroke-linejoin="miter"/>
<text x="843.8" y="1310" font-size="25" text-anchor="middle" textLength="88.3" lengthAdjust="spacingAndGlyphs">(n = 41)</text>
<path d="M1050.30 1188.60L1050.30 1097.30A91.3 91.3 0 0 1 1073.46 1100.29Z" fill="#9B97D2" stroke="#fff" stroke-width="3.7" stroke-linejoin="miter"/>
<path d="M1050.30 1188.60L1073.46 1100.29A91.3 91.3 0 0 1 1100.11 1265.12Z" fill="#652D90" stroke="#fff" stroke-width="3.7" stroke-linejoin="miter"/>
<path d="M1050.30 1188.60L1100.11 1265.12A91.3 91.3 0 0 1 1089.91 1270.86Z" fill="#F69EDB" stroke="#fff" stroke-width="3.7" stroke-linejoin="miter"/>
<path d="M1050.30 1188.60L1089.91 1270.86A91.3 91.3 0 1 1 1050.30 1097.30Z" fill="#E8213C" stroke="#fff" stroke-width="3.7" stroke-linejoin="miter"/>
<text x="1052.5" y="1310" font-size="25" text-anchor="middle" textLength="88.3" lengthAdjust="spacingAndGlyphs">(n = 49)</text>
<path d="M1257.10 1188.60L1257.10 1097.30A91.3 91.3 0 0 1 1270.39 1098.27Z" fill="#3F4FC9" stroke="#fff" stroke-width="3.7" stroke-linejoin="miter"/>
<path d="M1257.10 1188.60L1270.39 1098.27A91.3 91.3 0 0 1 1343.51 1218.08Z" fill="#652D90" stroke="#fff" stroke-width="3.7" stroke-linejoin="miter"/>
<path d="M1257.10 1188.60L1343.51 1218.08A91.3 91.3 0 0 1 1276.95 1277.72Z" fill="#F69EDB" stroke="#fff" stroke-width="3.7" stroke-linejoin="miter"/>
<path d="M1257.10 1188.60L1276.95 1277.72A91.3 91.3 0 1 1 1257.10 1097.30Z" fill="#E8213C" stroke="#fff" stroke-width="3.7" stroke-linejoin="miter"/>
<text x="1260.0" y="1310" font-size="25" text-anchor="middle" textLength="88.3" lengthAdjust="spacingAndGlyphs">(n = 43)</text>
<path d="M223.30 1467.30L223.30 1376.00A91.3 91.3 0 0 1 298.44 1415.44Z" fill="#3F4FC9" stroke="#fff" stroke-width="3.7" stroke-linejoin="miter"/>
<path d="M223.30 1467.30L298.44 1415.44A91.3 91.3 0 0 1 148.16 1519.16Z" fill="#652D90" stroke="#fff" stroke-width="3.7" stroke-linejoin="miter"/>
<path d="M223.30 1467.30L148.16 1519.16A91.3 91.3 0 0 1 132.67 1478.30Z" fill="#F69EDB" stroke="#fff" stroke-width="3.7" stroke-linejoin="miter"/>
<path d="M223.30 1467.30L132.67 1478.30A91.3 91.3 0 0 1 223.30 1376.00Z" fill="#E8213C" stroke="#fff" stroke-width="3.7" stroke-linejoin="miter"/>
<text x="220.2" y="1588" font-size="25" text-anchor="middle" textLength="88.3" lengthAdjust="spacingAndGlyphs">(n = 26)</text>
<path d="M430.10 1467.30L430.10 1376.00A91.3 91.3 0 0 1 455.82 1379.70Z" fill="#3F4FC9" stroke="#fff" stroke-width="3.7" stroke-linejoin="miter"/>
<path d="M430.10 1467.30L455.82 1379.70A91.3 91.3 0 1 1 339.73 1480.29Z" fill="#652D90" stroke="#fff" stroke-width="3.7" stroke-linejoin="miter"/>
<path d="M430.10 1467.30L339.73 1480.29A91.3 91.3 0 0 1 339.73 1454.31Z" fill="#F69EDB" stroke="#fff" stroke-width="3.7" stroke-linejoin="miter"/>
<path d="M430.10 1467.30L339.73 1454.31A91.3 91.3 0 0 1 430.10 1376.00Z" fill="#E8213C" stroke="#fff" stroke-width="3.7" stroke-linejoin="miter"/>
<text x="428.0" y="1588" font-size="25" text-anchor="middle" textLength="88.3" lengthAdjust="spacingAndGlyphs">(n = 22)</text>
<path d="M636.80 1467.30L636.80 1376.00A91.3 91.3 0 0 1 663.71 1380.06Z" fill="#3F4FC9" stroke="#fff" stroke-width="3.7" stroke-linejoin="miter"/>
<path d="M636.80 1467.30L663.71 1380.06A91.3 91.3 0 0 1 676.41 1385.04Z" fill="#9B97D2" stroke="#fff" stroke-width="3.7" stroke-linejoin="miter"/>
<path d="M636.80 1467.30L676.41 1385.04A91.3 91.3 0 1 1 557.73 1512.95Z" fill="#652D90" stroke="#fff" stroke-width="3.7" stroke-linejoin="miter"/>
<path d="M636.80 1467.30L557.73 1512.95A91.3 91.3 0 0 1 545.76 1460.48Z" fill="#F69EDB" stroke="#fff" stroke-width="3.7" stroke-linejoin="miter"/>
<path d="M636.80 1467.30L545.76 1460.48A91.3 91.3 0 0 1 636.80 1376.00Z" fill="#E8213C" stroke="#fff" stroke-width="3.7" stroke-linejoin="miter"/>
<text x="636.3" y="1588" font-size="25" text-anchor="middle" textLength="88.3" lengthAdjust="spacingAndGlyphs">(n = 42)</text>
<path d="M843.60 1467.30L843.60 1376.00A91.3 91.3 0 0 1 867.72 1379.24Z" fill="#3F4FC9" stroke="#fff" stroke-width="3.7" stroke-linejoin="miter"/>
<path d="M843.60 1467.30L867.72 1379.24A91.3 91.3 0 0 1 879.24 1383.24Z" fill="#9B97D2" stroke="#fff" stroke-width="3.7" stroke-linejoin="miter"/>
<path d="M843.60 1467.30L879.24 1383.24A91.3 91.3 0 0 1 920.56 1516.43Z" fill="#652D90" stroke="#fff" stroke-width="3.7" stroke-linejoin="miter"/>
<path d="M843.60 1467.30L920.56 1516.43A91.3 91.3 0 0 1 884.78 1548.79Z" fill="#F69EDB" stroke="#fff" stroke-width="3.7" stroke-linejoin="miter"/>
<path d="M843.60 1467.30L884.78 1548.79A91.3 91.3 0 1 1 843.60 1376.00Z" fill="#E8213C" stroke="#fff" stroke-width="3.7" stroke-linejoin="miter"/>
<text x="843.8" y="1588" font-size="25" text-anchor="middle" textLength="88.3" lengthAdjust="spacingAndGlyphs">(n = 47)</text>
<text x="1005.1" y="1486.1" font-size="24.8" font-weight="bold" textLength="147.1" lengthAdjust="spacingAndGlyphs">Allelic ratio</text>
<rect x="1172" y="1394.4" width="35.7" height="25.40" fill="#3F4FC9"/>
<rect x="1172" y="1419.8" width="35.7" height="34.50" fill="#9B97D2"/>
<rect x="1172" y="1454.3" width="35.7" height="50.90" fill="#652D90"/>
<rect x="1172" y="1505.2" width="35.7" height="33.60" fill="#F69EDB"/>
<rect x="1172" y="1538.8" width="35.7" height="26.00" fill="#E8213C"/>
<rect x="1172" y="1394.3" width="35.7" height="170.5" fill="none" stroke="#231F20" stroke-width="2"/>
<line x1="1207.7" y1="1394.4" x2="1217.4" y2="1394.4" stroke="#231F20" stroke-width="2"/>
<text x="1222.2" y="1399.7" font-size="21" textLength="35" lengthAdjust="spacingAndGlyphs">100</text>
<line x1="1207.7" y1="1419.8" x2="1217.4" y2="1419.8" stroke="#231F20" stroke-width="2"/>
<text x="1222.2" y="1425.7" font-size="21">85</text>
<line x1="1207.7" y1="1454.3" x2="1217.4" y2="1454.3" stroke="#231F20" stroke-width="2"/>
<text x="1222.2" y="1458.8" font-size="21">65</text>
<line x1="1207.7" y1="1505.2" x2="1217.4" y2="1505.2" stroke="#231F20" stroke-width="2"/>
<text x="1222.2" y="1510.5" font-size="21">35</text>
<line x1="1207.7" y1="1538.8" x2="1217.4" y2="1538.8" stroke="#231F20" stroke-width="2"/>
<text x="1222.2" y="1545.0" font-size="21">15</text>
<line x1="1207.7" y1="1564.8" x2="1217.4" y2="1564.8" stroke="#231F20" stroke-width="2"/>
<text x="1222.2" y="1571.4" font-size="21">0</text>
<text x="1265.6" y="1485.3" font-size="19.5" textLength="70.3" lengthAdjust="spacingAndGlyphs">% Cast</text>
</svg>
</body></html>
